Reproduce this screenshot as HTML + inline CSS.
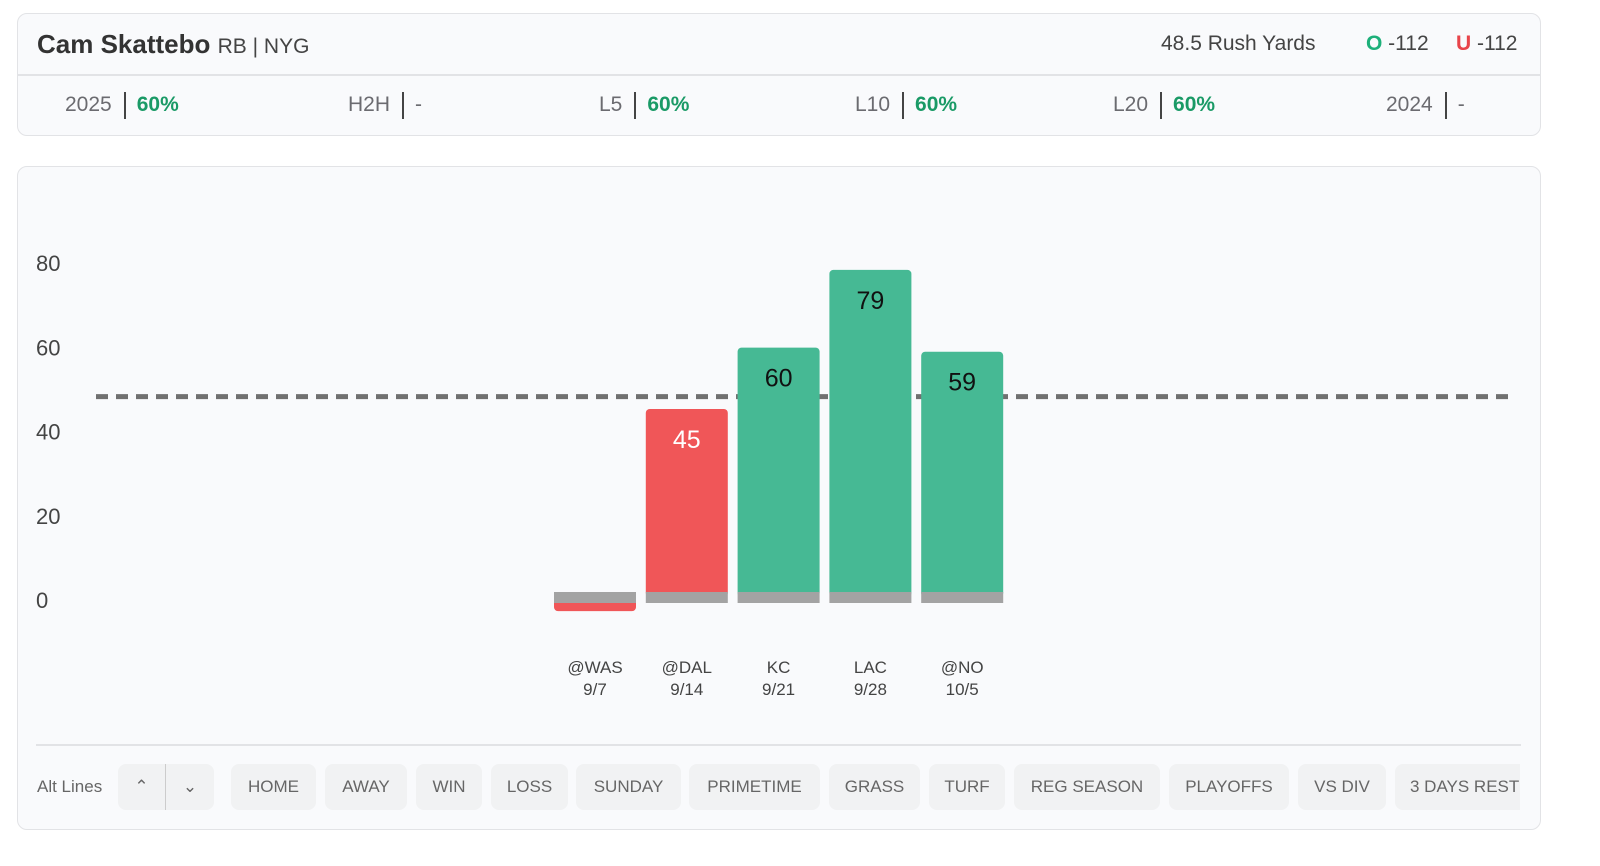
<!DOCTYPE html>
<html><head><meta charset="utf-8">
<style>
*{box-sizing:border-box;margin:0;padding:0}
body{width:1600px;height:866px;background:#fff;font-family:"Liberation Sans",sans-serif;position:relative;overflow:hidden;color:#333}
.card{position:absolute;background:#f9fafc;border:1.5px solid #e2e3e6;border-radius:10px}
.abs{position:absolute;white-space:nowrap}
.stat{position:absolute;top:92px;font-size:21px;color:#6b6b70;white-space:nowrap}
.stat .bar{display:inline-block;width:2px;height:27px;background:#444;vertical-align:middle;margin:0 11px 0 12px}
.stat .v{color:#1a9a66;font-weight:bold}
.btn{position:absolute;top:764px;height:46px;background:#f1f2f3;border-radius:8px;font-size:17px;color:#666;display:flex;align-items:center;justify-content:center}
</style></head><body>
<div class="card" style="left:17px;top:13px;width:1524px;height:123px"></div>
<div class="abs" style="left:37px;top:29px;font-size:26px;font-weight:bold;color:#333">Cam Skattebo <span style="font-weight:normal;font-size:21px;color:#444">RB | NYG</span></div>
<div class="abs" style="left:1161px;top:32px;font-size:21px;color:#444">48.5 Rush Yards</div>
<div class="abs" style="left:1366px;top:32px;font-size:21px;color:#444"><b style="color:#1db07a">O</b> -112</div>
<div class="abs" style="left:1456px;top:32px;font-size:21px;color:#444"><b style="color:#e8444a">U</b> -112</div>
<div class="abs" style="left:18px;top:74px;width:1522px;height:1.5px;background:#e2e3e6"></div>
<div class="stat" style="left:65px">2025<span class="bar"></span><span class="v">60%</span></div>
<div class="stat" style="left:348px">H2H<span class="bar"></span>-</div>
<div class="stat" style="left:599px">L5<span class="bar"></span><span class="v">60%</span></div>
<div class="stat" style="left:855px">L10<span class="bar"></span><span class="v">60%</span></div>
<div class="stat" style="left:1113px">L20<span class="bar"></span><span class="v">60%</span></div>
<div class="stat" style="left:1386px">2024<span class="bar"></span>-</div>

<div class="card" style="left:17px;top:166px;width:1524px;height:664px"></div>
<svg id="chart" style="position:absolute;left:0;top:0" width="1600" height="740"></svg>
<div class="abs" style="left:36px;top:744px;width:1485px;height:1.5px;background:#e2e3e6"></div>
<div class="abs" style="left:37px;top:777px;font-size:17px;color:#666">Alt Lines</div>
<div class="btn" style="left:118px;width:48px;border-radius:8px 0 0 8px;border-right:1.5px solid #ccc">&#8963;</div>
<div class="btn" style="left:166px;width:48px;border-radius:0 8px 8px 0">&#8964;</div>
<div class="btn" style="left:231px;width:85px">HOME</div>
<div class="btn" style="left:325px;width:82px">AWAY</div>
<div class="btn" style="left:416px;width:66px">WIN</div>
<div class="btn" style="left:491px;width:77px">LOSS</div>
<div class="btn" style="left:576px;width:105px">SUNDAY</div>
<div class="btn" style="left:689px;width:131px">PRIMETIME</div>
<div class="btn" style="left:829px;width:91px">GRASS</div>
<div class="btn" style="left:929px;width:76px">TURF</div>
<div class="btn" style="left:1014px;width:146px">REG SEASON</div>
<div class="btn" style="left:1169px;width:120px">PLAYOFFS</div>
<div class="btn" style="left:1298px;width:88px">VS DIV</div>
<div class="btn" style="left:1395px;width:125px;justify-content:flex-start;padding-left:15px;border-radius:8px 0 0 8px">3 DAYS REST</div>

<script>
const opponents=["@WAS","@DAL","KC","LAC","@NO"];
const dates=["9/7","9/14","9/21","9/28","10/5"];
const values=[-2,45,60,79,59];
const yTicks=[0,20,40,60,80];
const propLine=48.5;

const svg=document.getElementById('chart');
const NS='http://www.w3.org/2000/svg';
const zeroY=593,k=4.09;
function y(v){return zeroY-v*k;}
function tickY(v){return 600-v*4.21;}
function xb(i){return 554+i*91.8;}
const bw=82;
function mk(tag,attrs,text){const e=document.createElementNS(NS,tag);for(const a in attrs)e.setAttribute(a,attrs[a]);if(text!==undefined)e.textContent=text;svg.appendChild(e);return e;}

yTicks.forEach(t=>{
  const e=mk('text',{x:36,y:tickY(t)+8,'font-size':22,fill:'#444','font-family':'Liberation Sans'},t);
  
  
});

values.forEach((v,i)=>{
  const over=v>propLine;
  const col=over?'#46b994':'#f05658';
  let r;
  if(v>=0){
    r=mk('rect',{x:xb(i),y:y(v),width:bw,height:y(0)-y(v)+4,rx:4,fill:col});
  }else{
    r=mk('rect',{x:xb(i),y:zeroY+4,width:bw,height:-v*k+6,rx:4,fill:col});
  }
  
  
  const b=mk('rect',{x:xb(i),y:zeroY-1,width:bw,height:11,fill:'#a3a3a3'});
  
  
  if(v>0){
    const t=mk('text',{x:xb(i)+bw/2,y:y(v)+39,'text-anchor':'middle','font-size':25,fill:over?'#111':'#fff','font-family':'Liberation Sans'},v);
    
    
  }
  const o=mk('text',{x:xb(i)+bw/2,y:673,'text-anchor':'middle','font-size':17,fill:'#444','font-family':'Liberation Sans'},opponents[i]);
  
  
  const d=mk('text',{x:xb(i)+bw/2,y:695,'text-anchor':'middle','font-size':17,fill:'#444','font-family':'Liberation Sans'},dates[i]);
  
  
});

const ln=mk('line',{x1:96,x2:1512,y1:y(propLine)+2,y2:y(propLine)+2,stroke:'#707070','stroke-width':5,'stroke-dasharray':'12 8'});


// keep line behind bars
svg.insertBefore(ln,svg.firstChild);
</script>
</body></html>
